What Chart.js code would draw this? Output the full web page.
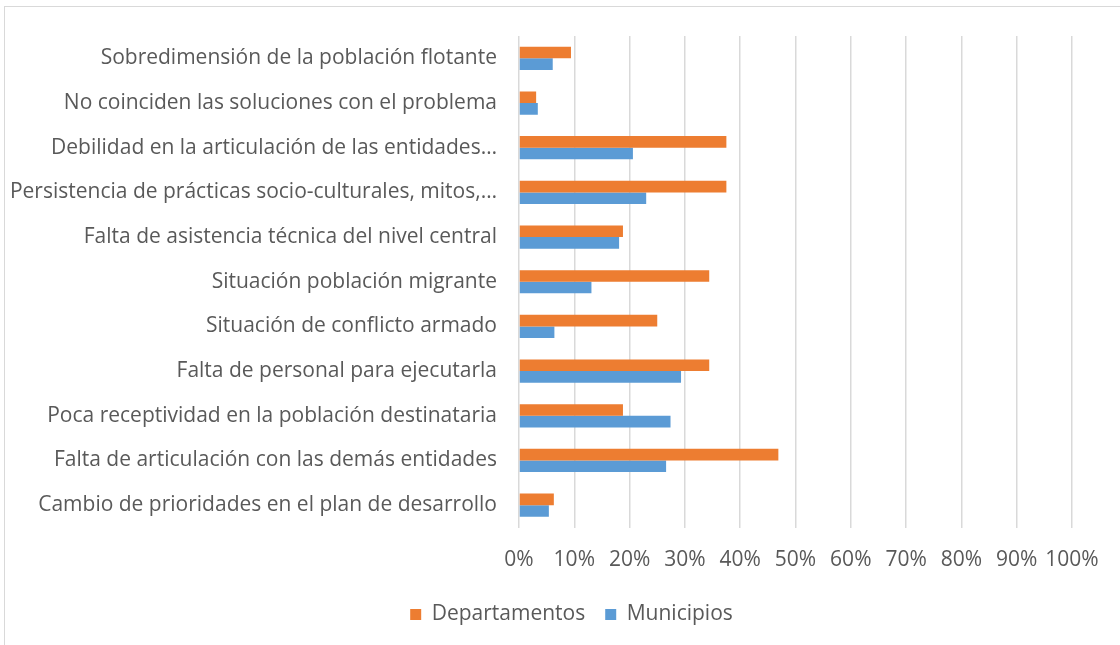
<!DOCTYPE html>
<html><head><meta charset="utf-8">
<script src="https://cdn.jsdelivr.net/npm/chart.js@4"></script>
<style>
html,body{margin:0;padding:0;background:#fff;overflow:hidden;}
#frame{position:absolute;left:4px;top:6px;width:1140px;height:660px;border:1px solid #d9d9d9;box-sizing:border-box;}
#wrap{position:absolute;left:0;top:0;width:1120px;height:645px;}
</style></head>
<body>
<div id="frame"></div>
<div id="wrap"><canvas id="c" width="1120" height="645"></canvas></div>
<script>
const categories = [
  "Sobredimensión de la población flotante",
  "No coinciden las soluciones con el problema",
  "Debilidad en la articulación de las entidades…",
  "Persistencia de prácticas socio-culturales, mitos,…",
  "Falta de asistencia técnica del nivel central",
  "Situación población migrante",
  "Situación de conflicto armado",
  "Falta de personal para ejecutarla",
  "Poca receptividad en la población destinataria",
  "Falta de articulación con las demás entidades",
  "Cambio de prioridades en el plan de desarrollo"
];
const departamentos = [9.4, 3.1, 37.5, 37.5, 18.8, 34.4, 25.0, 34.4, 18.8, 46.9, 6.3];
const municipios    = [6.1, 3.4, 20.6, 23.0, 18.1, 13.1, 6.4, 29.3, 27.4, 26.6, 5.4];
const xTicks = [0,10,20,30,40,50,60,70,80,90,100];

const FONT = "'Open Sans'";
const TXT = "#595959";
const PAD_B = 10, PLOT_LEFT = 519, PLOT_BOTTOM = 527.5, LEGEND_SHIFT = 71;

const shiftLegend = {
  id: 'shiftLegend',
  afterLayout(chart) { if (chart.legend) chart.legend.left += LEGEND_SHIFT; }
};

new Chart(document.getElementById('c'), {
  type: 'bar',
  data: {
    labels: categories,
    datasets: [
      {label: "Departamentos", data: departamentos, backgroundColor: "#ED7D31", categoryPercentage: 0.52, barPercentage: 1.0},
      {label: "Municipios", data: municipios, backgroundColor: "#5B9BD5", categoryPercentage: 0.52, barPercentage: 1.0}
    ]
  },
  plugins: [shiftLegend],
  options: {
    indexAxis: 'y',
    responsive: false,
    animation: false,
    layout: {padding: {top: 36, right: 48, bottom: PAD_B, left: 0}},
    plugins: {
      tooltip: {enabled: false},
      legend: {
        position: 'bottom',
        labels: {font: {family: FONT, size: 21}, color: TXT, boxWidth: 11, boxHeight: 11, padding: 20}
      }
    },
    scales: {
      x: {
        min: 0, max: 100,
        afterBuildTicks: (ax) => { ax.ticks = xTicks.map(v => ({value: v})); },
        afterFit: (ax) => {
          const lg = ax.chart.legend;
          const lh = (lg && lg.height) ? lg.height : 48;
          ax.height = 645 - PAD_B - lh - PLOT_BOTTOM;
        },
        ticks: {callback: v => v + "%", font: {family: FONT, size: 21}, color: TXT, padding: 20, maxRotation: 0, autoSkip: false},
        grid: {color: "#d9d9d9", lineWidth: 1.5, drawTicks: false},
        border: {display: false}
      },
      y: {
        afterFit: (ax) => { ax.width = PLOT_LEFT; },
        ticks: {font: {family: FONT, size: 21}, color: TXT, padding: 22, autoSkip: false},
        grid: {display: false, drawTicks: false},
        border: {display: false}
      }
    }
  }
});
</script>
</body></html>
